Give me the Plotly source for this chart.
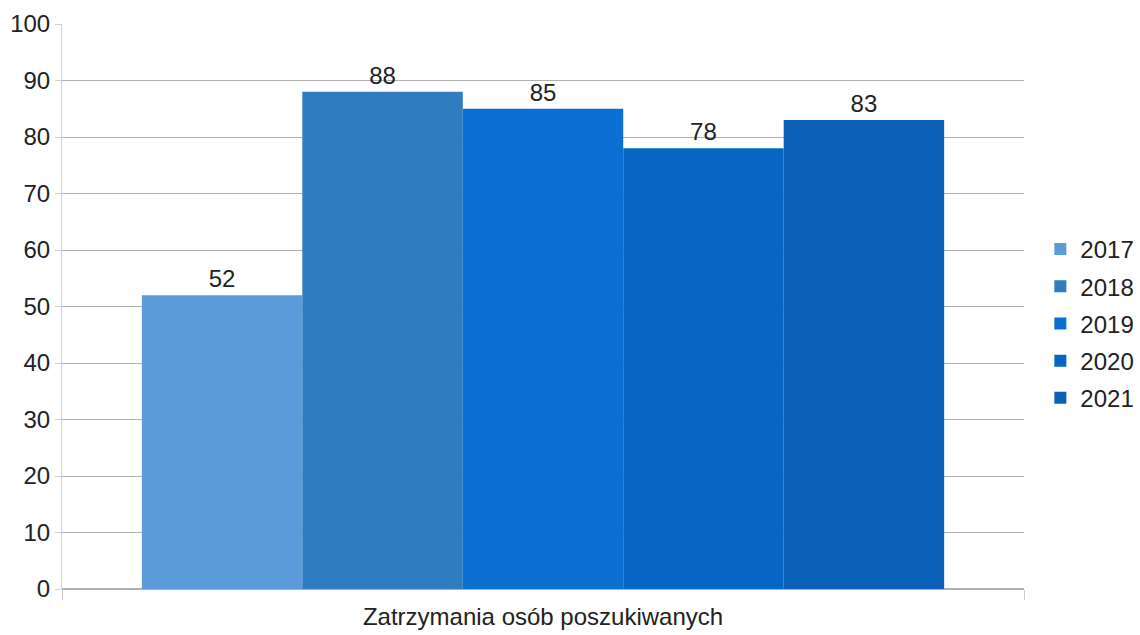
import plotly.graph_objects as go

# =============================================================================
# DATA
# =============================================================================
CATEGORY = ["Zatrzymania osób poszukiwanych"]
YEARS = ["2017", "2018", "2019", "2020", "2021"]
VALUES = [52, 88, 85, 78, 83]
Y_TICKS = [0, 10, 20, 30, 40, 50, 60, 70, 80, 90, 100]

COLORS = ["#5b9bd9", "#2f7cc0", "#0a6fd0", "#0766c4", "#0c60b5"]
FONT = "Liberation Sans, Arial, sans-serif"

# =============================================================================
# CHART
# =============================================================================
fig = go.Figure()
for year, val, col in zip(YEARS, VALUES, COLORS):
    fig.add_trace(go.Bar(
        x=CATEGORY,
        y=[val],
        name=year,
        legendgroup=year,
        marker=dict(color=col, line=dict(width=0)),
        text=[str(val)],
        textposition="outside",
        textfont=dict(size=24, color="#222222", family=FONT),
        cliponaxis=False,
    ))

fig.update_layout(
    width=1140,
    height=635,
    barmode="group",
    bargap=0.166,
    bargroupgap=0,
    plot_bgcolor="white",
    paper_bgcolor="white",
    margin=dict(l=62, r=116, t=24, b=46, autoexpand=False),
    font=dict(family=FONT, size=24, color="#222222"),
    legend=dict(
        x=1.017, y=0.47, xanchor="left", yanchor="middle",
        font=dict(size=24), itemwidth=30, tracegroupgap=3,
    ),
    xaxis=dict(
        automargin=False,
        showgrid=False,
        showline=False,
        ticks="outside",
        tickson="boundaries",
        ticklen=10,
        tickcolor="#cccccc",
        ticklabelstandoff=11,
        tickfont=dict(size=24),
    ),
    yaxis=dict(
        automargin=False,
        range=[0, 100],
        tickvals=Y_TICKS,
        showgrid=True,
        gridcolor="#b0b0b0",
        gridwidth=1,
        zeroline=True,
        zerolinecolor="#b0b0b0",
        showline=True,
        linecolor="#d0d0d0",
        ticks="outside",
        ticklen=6,
        tickcolor="#d0d0d0",
        tickfont=dict(size=24),
    ),
    showlegend=True,
)

fig.write_html(
    "out.html",
    config={"displayModeBar": False},
    post_script="document.body.style.margin='0';",
)
